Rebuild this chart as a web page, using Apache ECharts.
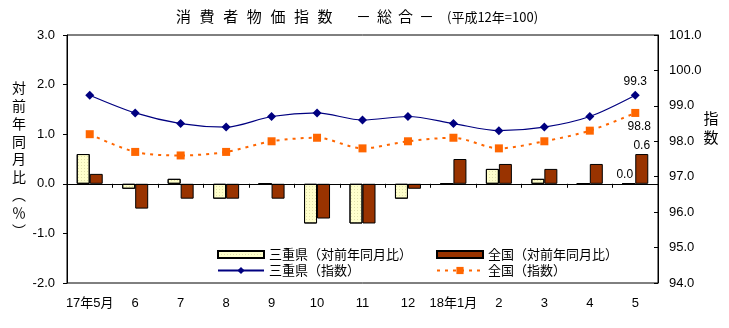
<!DOCTYPE html>
<html>
<head>
<meta charset="utf-8">
<script src="https://cdn.jsdelivr.net/npm/echarts@6/dist/echarts.min.js"></script>
<style>
html,body{margin:0;padding:0;background:#fff;}
#chart{width:729px;height:328px;}
</style>
</head>
<body>
<div id="chart"></div>
<script>
const categories = ['17年5月','6','7','8','9','10','11','12','18年1月','2','3','4','5'];
const mieYoY = [0.6,-0.1,0.1,-0.3,0.0,-0.8,-0.8,-0.3,0.0,0.3,0.1,0.0,0.0];
const natYoY = [0.2,-0.5,-0.3,-0.3,-0.3,-0.7,-0.8,-0.1,0.5,0.4,0.3,0.4,0.6];
const mieIdx = [99.3,98.8,98.5,98.4,98.7,98.8,98.6,98.7,98.5,98.3,98.4,98.7,99.3];
const natIdx = [98.2,97.7,97.6,97.7,98.0,98.1,97.8,98.0,98.1,97.8,98.0,98.3,98.8];
const leftTicks = [-2,-1,0,1,2,3];
const rightTicks = [94,95,96,97,98,99,100,101];
const seriesNames = ['三重県（対前年同月比）','全国（対前年同月比）','三重県（指数）','全国（指数）'];
const titleMain = '消費者物価指数';
const titleSub = '－総合－';
const titleNote = '(平成12年=100)';
const leftName = '対前年同月比︵％︶';
const rightName = '指数';

const NUMF = '"Liberation Sans","Noto Sans CJK JP",sans-serif';
const CJKF = '"Noto Sans CJK JP",sans-serif';
const last = categories.length - 1;
const fmt = p => Number(p.value).toFixed(1);

function withLastLabel(arr, labelOpt){
  return arr.map((v,i)=> i===last ? {value:v, label:Object.assign({show:true, formatter:fmt, color:'#000', fontSize:12, fontFamily:NUMF}, labelOpt)} : v);
}

const graphic = [];
titleMain.split('').forEach((c,i)=>{
  graphic.push({type:'text', left:176 + i*23.6, top:9, style:{text:c, font:'15px '+CJKF, fill:'#000'}});
});
titleSub.split('').forEach((c,i)=>{
  graphic.push({type:'text', left:356 + i*21, top:9, style:{text:c, font:'15px '+CJKF, fill:'#000'}});
});
graphic.push({type:'text', left:447, top:11, style:{text:titleNote, font:'13px '+CJKF, fill:'#000'}});
graphic.push({type:'text', x:19, y:79, style:{text:leftName.split('').join('\n'), font:'14px '+CJKF, lineHeight:17.8, align:'center', fill:'#000'}});
graphic.push({type:'text', x:711, y:109, style:{text:rightName.split('').join('\n'), font:'15px '+CJKF, lineHeight:19, align:'center', fill:'#000'}});

const legendCommon = {itemWidth:46, itemHeight:7, itemGap:0, padding:0, selectedMode:false,
  textStyle:{fontSize:13, fontFamily:CJKF, color:'#000'}};

const option = {
  animation:false,
  backgroundColor:'#fff',
  graphic: graphic,
  grid:{left:67, right:71, top:35, bottom:45, show:true, borderColor:'#000', borderWidth:1, backgroundColor:'transparent'},
  legend:[
    Object.assign({}, legendCommon, {data:[{name:seriesNames[0], icon:'rect'}], left:217, top:248}),
    Object.assign({}, legendCommon, {data:[{name:seriesNames[1], icon:'rect'}], left:436, top:248}),
    Object.assign({}, legendCommon, {data:[seriesNames[2]], left:217, top:264, itemHeight:9}),
    Object.assign({}, legendCommon, {data:[seriesNames[3]], left:436, top:264, itemHeight:9})
  ],
  xAxis:[
    {type:'category', data:categories, position:'bottom',
     axisLine:{show:true, onZero:true, onZeroAxisIndex:0, lineStyle:{color:'#000', width:1}},
     axisTick:{show:true, length:4, interval:0, lineStyle:{color:'#000'}},
     axisLabel:{show:false}, splitLine:{show:false}, z:5},
    {type:'category', data:categories, position:'bottom',
     axisLine:{show:false, onZero:false}, axisTick:{show:false},
     axisLabel:{show:true, interval:0, margin:14, fontSize:13, fontFamily:NUMF, color:'#000'}, splitLine:{show:false}}
  ],
  yAxis:[
    {type:'value', min:leftTicks[0], max:leftTicks[leftTicks.length-1], interval:1, position:'left',
     axisLine:{show:true, lineStyle:{color:'#000'}}, axisTick:{show:true, length:4, inside:false, lineStyle:{color:'#000'}},
     splitLine:{show:false}, axisLabel:{formatter:v=>v.toFixed(1), margin:12, fontSize:13, fontFamily:NUMF, color:'#000'}},
    {type:'value', min:rightTicks[0], max:rightTicks[rightTicks.length-1], interval:1, position:'right',
     axisLine:{show:true, lineStyle:{color:'#000'}}, axisTick:{show:true, length:4, inside:true, lineStyle:{color:'#000'}},
     splitLine:{show:false}, axisLabel:{formatter:v=>v.toFixed(1), margin:11, fontSize:13, fontFamily:NUMF, color:'#000'}}
  ],
  series:[
    {name:seriesNames[0], type:'bar', xAxisIndex:0, yAxisIndex:0, barWidth:13, barGap:'0%',
     itemStyle:{color:'#FFFFCC', borderColor:'#000', borderWidth:1,
       decal:{symbol:'rect', symbolSize:1, color:'rgba(170,170,110,0.35)', dashArrayX:[1,2], dashArrayY:[1,2]}},
     data:withLastLabel(mieYoY, {position:'top', distance:3, offset:[-4,0]}), z:2},
    {name:seriesNames[1], type:'bar', xAxisIndex:0, yAxisIndex:0, barWidth:13, barGap:'0%',
     itemStyle:{color:'#993300', borderColor:'#000', borderWidth:1},
     data:withLastLabel(natYoY, {position:'top', distance:2}), z:2},
    {name:seriesNames[2], type:'line', xAxisIndex:0, yAxisIndex:1, smooth:0.3,
     symbol:'diamond', symbolSize:9, color:'#000080',
     itemStyle:{color:'#000080'}, lineStyle:{color:'#000080', width:1.2},
     data:withLastLabel(mieIdx, {position:'top', distance:3}), z:4},
    {name:seriesNames[3], type:'line', xAxisIndex:0, yAxisIndex:1, smooth:0.3,
     symbol:'rect', symbolSize:8, color:'#FF6600',
     itemStyle:{color:'#FF6600'}, lineStyle:{color:'#FF6600', width:2, type:[3,5]},
     data:withLastLabel(natIdx, {position:'bottom', distance:4, offset:[4,0]}), z:3}
  ]
};
const chart = echarts.init(document.getElementById('chart'), null, {renderer:'canvas'});
chart.setOption(option);
</script>
</body>
</html>
